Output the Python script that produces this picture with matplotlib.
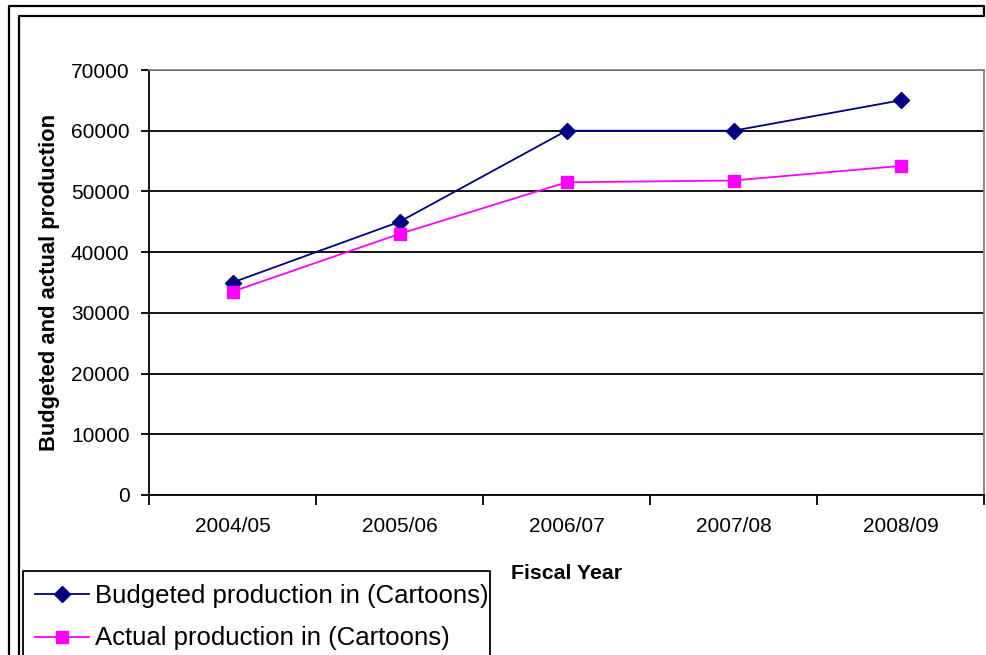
import matplotlib.pyplot as plt
from matplotlib.lines import Line2D

plt.rcParams['font.family'] = ['Liberation Sans', 'DejaVu Sans']

years = ["2004/05", "2005/06", "2006/07", "2007/08", "2008/09"]
budgeted = [35000, 45000, 60000, 60000, 65000]
actual = [33500, 43000, 51500, 51800, 54200]

W, H = 986, 655
fig = plt.figure(figsize=(W / 100, H / 100), dpi=100)


def px_line(xs, ys, lw=1.6):
    # line in pixel coordinates measured from the top-left corner
    fig.add_artist(Line2D([v / W for v in xs], [1 - v / H for v in ys],
                          transform=fig.transFigure, color="black",
                          linewidth=lw, solid_capstyle="projecting"))


# double border: two left edges and tops, closed on the right between the tops
px_line([8.5, 8.5, 983.5, 983.5, 18.5, 18.5], [H + 5, 5.5, 5.5, 15.5, 15.5, H + 5])
# legend box, running off the bottom edge
px_line([22.5, 22.5, 489.5, 489.5], [H + 5, 570.5, 570.5, H + 5], lw=1.3)

ax = fig.add_axes([149 / W, (H - 495) / H, (984 - 149) / W, (495 - 70) / H])
x = range(len(years))
ax.plot(x, budgeted, color="#000080", marker="D", markersize=8.5, linewidth=1.3,
        label="Budgeted production in (Cartoons)")
ax.plot(x, actual, color="#FF00FF", marker="s", markersize=8, linewidth=1.3,
        label="Actual production in (Cartoons)")

ax.set_xlim(-0.5, len(years) - 0.5)
ax.set_ylim(0, 70000)
ax.set_yticks(range(0, 70001, 10000))
ax.yaxis.grid(True, color="black", linewidth=1.3)
ax.set_axisbelow(True)

ax.set_xticks([i - 0.5 for i in range(len(years) + 1)])
ax.set_xticklabels([])
ax.set_xticks(list(x), minor=True)
ax.set_xticklabels(years, minor=True)
ax.tick_params(axis="x", which="minor", length=0, pad=16, labelsize=15)
ax.tick_params(axis="x", which="major", length=7, width=1.3, direction="out")
ax.tick_params(axis="y", length=6, width=1.3, direction="out", labelsize=15, pad=8)

for s in ["left", "bottom"]:
    ax.spines[s].set_linewidth(1.3)
for s in ["top", "right"]:
    ax.spines[s].set_color("#808080")
    ax.spines[s].set_linewidth(1.3)

ax.set_xlabel("Fiscal Year", fontsize=15.3, fontweight="bold", labelpad=20)
ax.set_ylabel("Budgeted and actual production", fontsize=15.8, fontweight="bold", labelpad=8)

fig.legend(loc="upper left", bbox_to_anchor=(35 / W, 1 - 584 / H),
           fontsize=18.5, frameon=False, borderaxespad=0, borderpad=0,
           handlelength=2.1, handletextpad=0.25, labelspacing=0.72)

fig.savefig("out.png", dpi=100)
